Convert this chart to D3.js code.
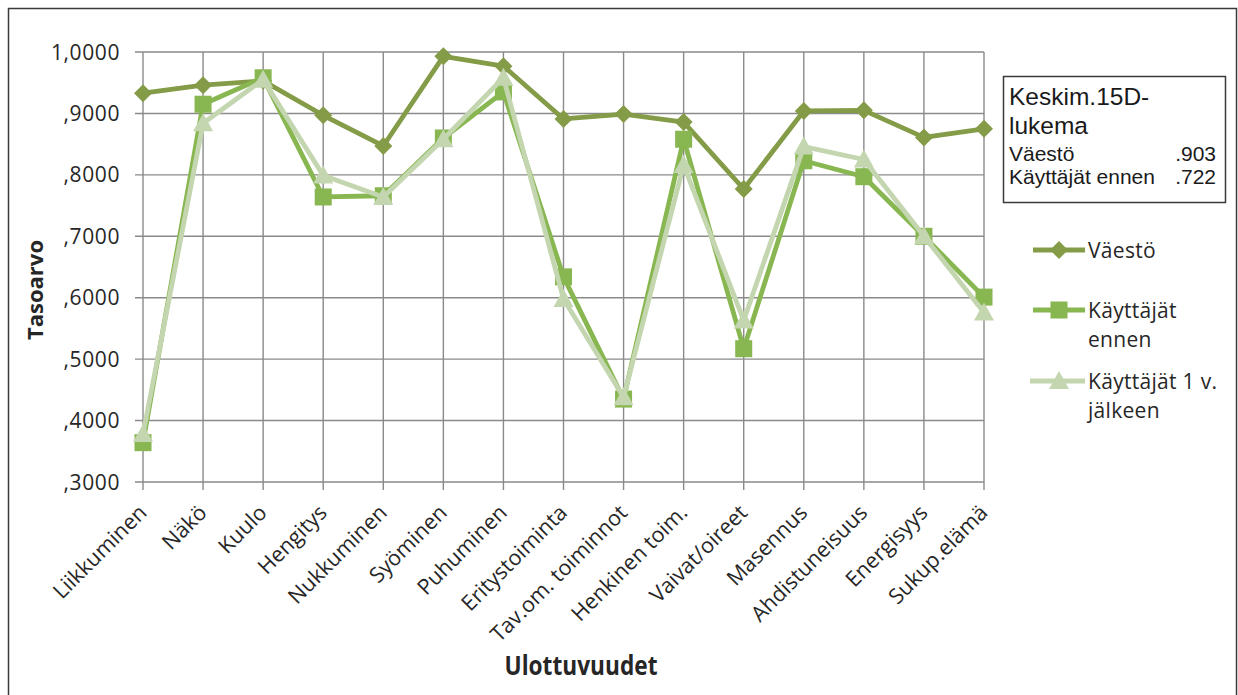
<!DOCTYPE html>
<html><head><meta charset="utf-8">
<script src="https://cdn.jsdelivr.net/npm/d3@7"></script>
<style>
html,body{margin:0;padding:0;background:#fff;}
svg{display:block;}
</style></head>
<body>
<svg id="c" width="1238" height="695"></svg>
<script>
const categories = ["Liikkuminen","Näkö","Kuulo","Hengitys","Nukkuminen","Syöminen","Puhuminen","Eritystoiminta","Tav.om. toiminnot","Henkinen toim.","Vaivat/oireet","Masennus","Ahdistuneisuus","Energisyys","Sukup.elämä"];
const vaesto = [0.933,0.946,0.953,0.897,0.847,0.993,0.977,0.891,0.899,0.886,0.777,0.904,0.905,0.861,0.875];
const ennen  = [0.364,0.915,0.958,0.764,0.766,0.860,0.935,0.634,0.435,0.858,0.517,0.823,0.797,0.700,0.601];
const jalkeen= [0.378,0.884,0.955,0.799,0.764,0.858,0.958,0.598,0.438,0.816,0.563,0.846,0.825,0.700,0.576];
const yTicks = [0.3,0.4,0.5,0.6,0.7,0.8,0.9,1.0];
const seriesNames = ["Väestö","Käyttäjät ennen","Käyttäjät 1 v. jälkeen"];
const infoLines = [["Väestö",".903"],["Käyttäjät ennen",".722"]];

const svg = d3.select("#c");
const x = d3.scalePoint().domain(categories).range([143,984]);
const y = d3.scaleLinear().domain([0.3,1.0]).range([482,52]);
const fmt = v => { const s = v.toFixed(4); return s.startsWith("0.") ? "," + s.slice(2) : s.replace(".", ","); };
const sans = "'Open Sans', sans-serif";
const arial = "'Liberation Sans', Arial, sans-serif";

// outer border
svg.append("rect").attr("x",8.5).attr("y",8.5).attr("width",1228).attr("height",700)
  .attr("fill","none").attr("stroke","#3a3a3a").attr("stroke-width",1.5);

const gridColor = "#8a8a8a";
svg.append("g").selectAll("line").data(yTicks).join("line")
  .attr("x1",135).attr("x2",984).attr("y1",d=>y(d)).attr("y2",d=>y(d))
  .attr("stroke",gridColor).attr("stroke-width",1.4);
svg.append("g").selectAll("line").data(categories).join("line")
  .attr("x1",d=>x(d)).attr("x2",d=>x(d)).attr("y1",52).attr("y2",490)
  .attr("stroke",gridColor).attr("stroke-width",1.4);

// y tick labels
svg.append("g").selectAll("text").data(yTicks).join("text")
  .attr("x",120).attr("y",d=>y(d)+7.5).attr("text-anchor","end")
  .attr("font-family",sans).attr("font-size",21).attr("letter-spacing",0.6).attr("fill","#262626")
  .text(fmt);

// x tick labels
svg.append("g").selectAll("text").data(categories).join("text")
  .attr("transform",d=>`translate(${x(d)+5},${514}) rotate(-45)`)
  .attr("text-anchor","end")
  .attr("font-family",sans).attr("font-size",21.5).attr("fill","#262626")
  .text(d=>d);

// axis titles
svg.append("text").attr("transform","translate(43,290) rotate(-90)").attr("text-anchor","middle")
  .attr("font-family",sans).attr("font-weight","bold").attr("font-size",22).attr("fill","#262626")
  .text("Tasoarvo");
svg.append("text").attr("transform","translate(581,675) scale(0.84,1)").attr("text-anchor","middle")
  .attr("font-family",sans).attr("font-weight","bold").attr("font-size",27).attr("fill","#262626")
  .text("Ulottuvuudet");

const colors = ["#849b47","#88b650","#c3d6af"];
const data = [vaesto, ennen, jalkeen];
const line = d3.line().x((d,i)=>x(categories[i])).y(d=>y(d));

function marker(g, type, color, cx, cy){
  if(type===0){
    g.append("path").attr("d",`M${cx},${cy-9}L${cx+9},${cy}L${cx},${cy+9}L${cx-9},${cy}Z`).attr("fill",color);
  } else if(type===1){
    g.append("rect").attr("x",cx-8.5).attr("y",cy-8.5).attr("width",17).attr("height",17).attr("fill",color);
  } else {
    g.append("path").attr("d",`M${cx},${cy-10}L${cx+10},${cy+8}L${cx-10},${cy+8}Z`).attr("fill",color);
  }
}

data.forEach((vals,si)=>{
  const g = svg.append("g");
  g.append("path").datum(vals).attr("d",line).attr("fill","none")
    .attr("stroke",colors[si]).attr("stroke-width",4.8).attr("stroke-linejoin","round");
  vals.forEach((v,i)=>marker(g, si, colors[si], x(categories[i]), y(v)));
});

// info box
const ib = svg.append("g");
ib.append("rect").attr("x",1003.5).attr("y",76.5).attr("width",222).attr("height",126)
  .attr("fill","#fff").attr("stroke","#3a3a3a").attr("stroke-width",1.5);
ib.append("text").attr("x",1009).attr("y",105).attr("font-family",arial).attr("font-size",24.5).attr("fill","#1a1a1a").text("Keskim.15D-");
ib.append("text").attr("x",1009).attr("y",134).attr("font-family",arial).attr("font-size",24.5).attr("fill","#1a1a1a").text("lukema");
infoLines.forEach((r,i)=>{
  ib.append("text").attr("x",1009).attr("y",161+i*23).attr("font-family",arial).attr("font-size",21).attr("fill","#1a1a1a").text(r[0]);
  ib.append("text").attr("x",1216).attr("y",161+i*23).attr("text-anchor","end").attr("font-family",arial).attr("font-size",21).attr("fill","#1a1a1a").text(r[1]);
});

// legend
const legendY = [250,310,381];
const legendText = [["Väestö"],["Käyttäjät","ennen"],["Käyttäjät 1 v.","jälkeen"]];
const lg = svg.append("g");
seriesNames.forEach((n,i)=>{
  const ly = legendY[i];
  lg.append("line").attr("x1",i===2?1030:1033).attr("x2",1085).attr("y1",ly).attr("y2",ly)
    .attr("stroke",colors[i]).attr("stroke-width",4.8);
  marker(lg, i, colors[i], 1059, ly);
  legendText[i].forEach((t,j)=>{
    lg.append("text").attr("x",1088).attr("y",ly+7.5+j*29).attr("font-family",sans)
      .attr("font-size",21).attr("letter-spacing",0.3).attr("fill","#262626").text(t);
  });
});
</script>
</body></html>
